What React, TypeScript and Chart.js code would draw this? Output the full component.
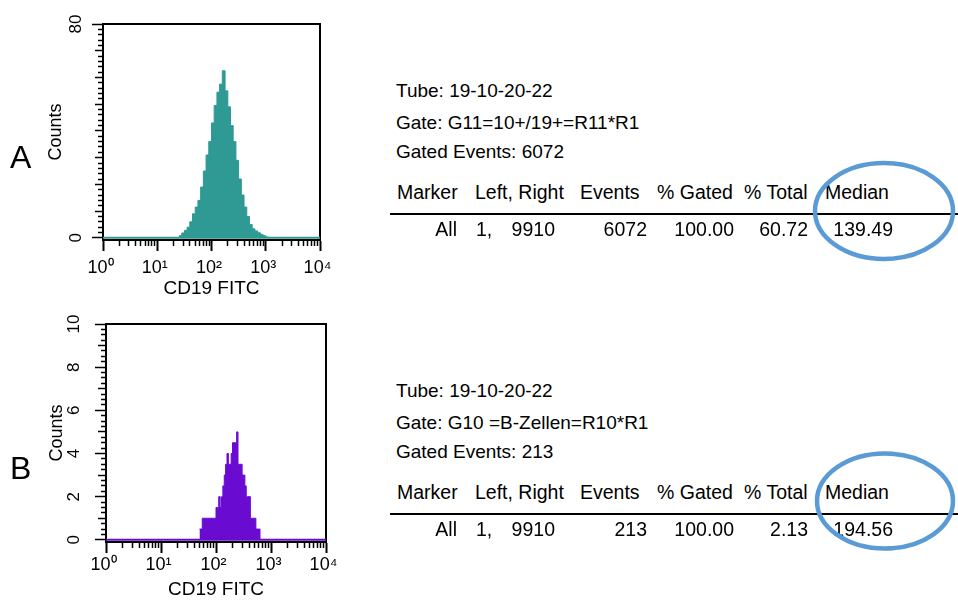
import React, { useEffect, useRef } from 'react';
import { Chart, registerables } from 'chart.js';

Chart.register(...registerables);

// ---------------- data ----------------
const X_DECADES = [1, 10, 100, 1000, 10000];
const X_DECADE_LABELS = ['10⁰', '10¹', '10²', '10³', '10⁴'];
const X_MINOR_MULTIPLIERS = [2, 3, 4, 5, 6, 7, 8, 9];

// Panel A histogram (bin left edges in channel units, last value = right edge of last bin)
const A_EDGES = [
  25.1, 28.2, 31.6, 35.5, 39.8, 44.7, 50.1, 56.2, 63.1, 70.8, 79.4, 89.1,
  100, 112, 126, 141, 158, 178, 200, 224, 251, 282, 316, 355, 398, 447,
  501, 562, 631, 708, 794, 891, 1000, 1122,
];
const A_COUNTS = [
  0.8, 1.8, 2.8, 4.0, 6.0, 9.0, 11.5, 14, 19, 25, 31, 36,
  43, 49.5, 54.5, 57.5, 62.5, 55, 49, 42, 36, 29, 22, 16, 11.5, 8,
  5, 3.4, 2.6, 1.9, 1.3, 0.8, 0.3,
];
const A_Y_LABELS = [0, 80];

// Panel B histogram
const B_EDGES = [
  50.1, 53.1, 56.2, 59.6, 63.1, 66.8, 70.8, 75.0, 79.4, 84.1, 89.1, 94.4,
  100, 105.9, 112.2, 118.9, 125.9, 133.4, 141.3, 149.6, 158.5, 167.9, 177.8,
  188.4, 199.5, 211.3, 223.9, 237.1, 251.2, 266.1, 281.8, 298.5, 316.2, 335.0,
  354.8, 375.8, 398.1, 421.7, 446.7, 473.2, 501.2, 530.9, 562.3, 595.7, 631.0,
];
const B_COUNTS = [
  0.5, 0.5, 1, 1, 1, 1, 1, 1, 1, 1, 1, 1,
  1.5, 1.5, 2, 1.5, 2, 2.5, 3, 3.5, 4, 3.5, 3.5,
  4, 4.5, 4.5, 4.5, 5, 3.5, 3.5, 3.5, 3, 3, 2.5,
  2, 2, 2, 1, 1, 1, 1, 0.5, 0.5, 0.5,
];
const B_Y_LABELS = [0, 2, 4, 6, 8, 10];

const X_TITLE = 'CD19 FITC';
const Y_TITLE = 'Counts';

const A_INFO = ['Tube: 19-10-20-22', 'Gate: G11=10+/19+=R11*R1', 'Gated Events: 6072'];
const B_INFO = ['Tube: 19-10-20-22', 'Gate: G10 =B-Zellen=R10*R1', 'Gated Events: 213'];
const TABLE_HEADERS = ['Marker', 'Left, Right', 'Events', '% Gated', '% Total', 'Median'];
const A_ROW = ['All', '1,', '9910', '6072', '100.00', '60.72', '139.49'];
const B_ROW = ['All', '1,', '9910', '213', '100.00', '2.13', '194.56'];

const TEAL = '#2e9a93';
const PURPLE = '#6a0bd2';
const FONT = "'Liberation Sans', Arial, Helvetica, sans-serif";

// ---------------- chart helpers ----------------
const X_TICK_VALUES: number[] = [];
X_DECADES.forEach((d, i) => {
  X_TICK_VALUES.push(d);
  if (i < X_DECADES.length - 1) X_MINOR_MULTIPLIERS.forEach((m) => X_TICK_VALUES.push(d * m));
});

type Panel = {
  edges: number[];
  counts: number[];
  color: string;
  yMin: number;
  yMax: number;
  yStep: number;
  yMedium: number;
  yLabels: number[];
  padLeft: number;
  padTop: number;
  padRight: number;
  yWidth: number;
  xHeight: number;
  yTitlePad: number;
  yLabelPad: number;
  xLabelPad: number;
};

const PANEL_A: Panel = {
  edges: A_EDGES, counts: A_COUNTS, color: TEAL,
  yMin: -0.8, yMax: 80, yStep: 2, yMedium: 10, yLabels: A_Y_LABELS,
  padLeft: 30, padTop: 24, padRight: 25, yWidth: 73, xHeight: 60,
  yTitlePad: 15, yLabelPad: 6, xLabelPad: 6,
};
const PANEL_B: Panel = {
  edges: B_EDGES, counts: B_COUNTS, color: PURPLE,
  yMin: -0.1, yMax: 10, yStep: 0.25, yMedium: 1, yLabels: B_Y_LABELS,
  padLeft: 30, padTop: 24, padRight: 19, yWidth: 76, xHeight: 59,
  yTitlePad: 16, yLabelPad: 11, xLabelPad: 1,
};

const TICK_LEN = 11;
const NONE = 'rgba(0,0,0,0)';
// left-axis ticks are stroked from the outer end towards the border: use a dash offset
// so only the part next to the border is visible
const leftDash = (s: number) => (s >= TICK_LEN ? [] : [s, 100]);
const leftDashOffset = (s: number) => (s >= TICK_LEN ? 0 : 100 + 2 * s - (TICK_LEN - 1));

function near(a: number, b: number) {
  return Math.abs(a - b) < 1e-6;
}

function makeConfig(p: Panel): any {
  const pts: { x: number; y: number }[] = [];
  for (let i = 0; i < p.counts.length; i++) pts.push({ x: p.edges[i], y: p.counts[i] });
  pts.push({ x: p.edges[p.edges.length - 1], y: 0 });
  const base = [
    { x: X_DECADES[0], y: 0 },
    { x: X_DECADES[X_DECADES.length - 1], y: 0 },
  ];

  const yTicks: number[] = [];
  const n = Math.round(p.yMax / p.yStep);
  for (let i = 0; i <= n; i++) yTicks.push(+(i * p.yStep).toFixed(4));

  const isLabel = (v: number) => p.yLabels.some((l) => near(l, v));
  const isMedium = (v: number) => near(v / p.yMedium, Math.round(v / p.yMedium));
  const ySeg = (v: number) => (isLabel(v) ? TICK_LEN : isMedium(v) ? 7 : 4);
  const isDecade = (v: number) => X_DECADES.some((d) => near(d, v));

  return {
    type: 'line',
    data: {
      datasets: [
        {
          data: pts,
          stepped: 'before',
          fill: 'origin',
          backgroundColor: p.color,
          borderColor: p.color,
          borderWidth: 1,
          pointRadius: 0,
          tension: 0,
        },
        {
          data: base,
          fill: false,
          borderColor: p.color,
          borderWidth: 2,
          pointRadius: 0,
        },
      ],
    },
    options: {
      responsive: false,
      animation: false,
      devicePixelRatio: 1,
      layout: { padding: { left: p.padLeft, top: p.padTop, right: p.padRight, bottom: 0 } },
      plugins: { legend: { display: false }, tooltip: { enabled: false } },
      events: [],
      scales: {
        x: {
          type: 'logarithmic',
          position: 'bottom',
          min: X_DECADES[0],
          max: X_DECADES[X_DECADES.length - 1],
          afterBuildTicks: (s: any) => {
            s.ticks = X_TICK_VALUES.map((v) => ({ value: v }));
          },
          afterFit: (s: any) => {
            s.height = p.xHeight;
          },
          ticks: {
            autoSkip: false,
            maxTicksLimit: 1000,
            minRotation: 0,
            maxRotation: 0,
            padding: p.xLabelPad,
            color: '#000',
            font: { family: FONT, size: 18 },
            callback: (v: number) => {
              const i = X_DECADES.findIndex((d) => near(d, v));
              return i >= 0 ? X_DECADE_LABELS[i] + ' ' : '';
            },
          },
          grid: {
            color: NONE,
            drawOnChartArea: false,
            drawTicks: true,
            tickLength: TICK_LEN,
            tickColor: '#000',
            tickWidth: (c: any) => (isDecade(c.tick.value) ? 2 : 1.5),
            tickBorderDash: (c: any) => (isDecade(c.tick.value) ? [] : [5, 100]),
            tickBorderDashOffset: 0,
          },
          border: { display: true, color: '#000', width: 2 },
          title: {
            display: true,
            text: X_TITLE,
            color: '#000',
            font: { family: FONT, size: 19 },
            padding: { top: 0, bottom: 0 },
          },
        },
        y: {
          type: 'linear',
          position: 'left',
          min: p.yMin,
          max: p.yMax,
          bounds: 'data',
          afterBuildTicks: (s: any) => {
            s.ticks = yTicks.map((v) => ({ value: v }));
          },
          afterFit: (s: any) => {
            s.width = p.yWidth;
          },
          ticks: {
            autoSkip: false,
            maxTicksLimit: 1000,
            minRotation: 90,
            maxRotation: 90,
            crossAlign: 'center',
            padding: p.yLabelPad,
            color: '#000',
            font: { family: FONT, size: 17 },
            callback: (v: number) => (isLabel(v) ? String(v) : ''),
          },
          grid: {
            color: NONE,
            drawOnChartArea: false,
            drawTicks: true,
            tickLength: TICK_LEN,
            tickColor: '#000',
            tickWidth: 1.5,
            tickBorderDash: (c: any) => leftDash(ySeg(c.tick.value)),
            tickBorderDashOffset: (c: any) => leftDashOffset(ySeg(c.tick.value)),
          },
          border: { display: true, color: '#000', width: 2 },
          title: {
            display: true,
            text: Y_TITLE,
            color: '#000',
            font: { family: FONT, size: 18 },
            padding: { top: p.yTitlePad, bottom: 0 },
          },
        },
        xTop: {
          type: 'linear',
          position: 'top',
          afterFit: (s: any) => {
            s.height = 0;
          },
          ticks: { display: false },
          grid: { color: NONE, drawOnChartArea: false, drawTicks: false },
          border: { display: true, color: '#000', width: 2 },
        },
        yRight: {
          type: 'linear',
          position: 'right',
          afterFit: (s: any) => {
            s.width = 0;
          },
          ticks: { display: false },
          grid: { color: NONE, drawOnChartArea: false, drawTicks: false },
          border: { display: true, color: '#000', width: 2 },
        },
      },
    },
  };
}

// ---------------- layout helpers ----------------
const TXT = '#000';

function Txt(props: { x: number; cy: number; size: number; text: string; align?: 'left' | 'right' }) {
  const { x, cy, size, text, align = 'left' } = props;
  const style: React.CSSProperties = {
    position: 'absolute',
    top: cy - size / 2,
    fontSize: size,
    lineHeight: `${size}px`,
    color: TXT,
    whiteSpace: 'pre',
    fontFamily: FONT,
  };
  if (align === 'left') style.left = x;
  else {
    style.left = x - 300;
    style.width = 300;
    style.textAlign = 'right';
  }
  return <div style={style}>{text}</div>;
}

const HEADER_LEFT = [397, 475, 580, 657, 744, 825];

function InfoBlock(props: { dy: number; info: string[]; row: string[] }) {
  const { dy, info, row } = props;
  const infoY = [90, 122, 151];
  return (
    <>
      {info.map((t, i) => (
        <Txt key={'i' + i} x={396} cy={infoY[i] + dy} size={19} text={t} />
      ))}
      {TABLE_HEADERS.map((h, i) => (
        <Txt key={'h' + i} x={HEADER_LEFT[i]} cy={193 + dy} size={19.5} text={h} />
      ))}
      <div
        style={{ position: 'absolute', left: 390, top: 213 + dy, width: 568, height: 2, background: TXT }}
      />
      <Txt x={457} cy={230 + dy} size={19.5} text={row[0]} align="right" />
      <Txt x={476} cy={230 + dy} size={19.5} text={row[1]} />
      <Txt x={555} cy={230 + dy} size={19.5} text={row[2]} align="right" />
      <Txt x={647} cy={230 + dy} size={19.5} text={row[3]} align="right" />
      <Txt x={734} cy={230 + dy} size={19.5} text={row[4]} align="right" />
      <Txt x={808} cy={230 + dy} size={19.5} text={row[5]} align="right" />
      <Txt x={893} cy={230 + dy} size={19.5} text={row[6]} align="right" />
    </>
  );
}

export default function App() {
  const refA = useRef<HTMLCanvasElement>(null);
  const refB = useRef<HTMLCanvasElement>(null);

  useEffect(() => {
    const a = new Chart(refA.current as HTMLCanvasElement, makeConfig(PANEL_A));
    const b = new Chart(refB.current as HTMLCanvasElement, makeConfig(PANEL_B));
    return () => {
      a.destroy();
      b.destroy();
    };
  }, []);

  return (
    <div
      style={{
        position: 'fixed',
        left: 0,
        top: 0,
        width: 958,
        height: 601,
        background: '#fff',
        overflow: 'hidden',
        fontFamily: FONT,
      }}
    >
      <canvas ref={refA} width={345} height={300} style={{ position: 'absolute', left: 0, top: 0 }} />
      <canvas ref={refB} width={345} height={301} style={{ position: 'absolute', left: 0, top: 300 }} />
      <div style={{ position: 'absolute', left: 10, top: 141, fontSize: 32, lineHeight: '32px', color: TXT }}>A</div>
      <div style={{ position: 'absolute', left: 10, top: 452, fontSize: 32, lineHeight: '32px', color: TXT }}>B</div>
      <InfoBlock dy={0} info={A_INFO} row={A_ROW} />
      <InfoBlock dy={300} info={B_INFO} row={B_ROW} />
      <svg
        width={958}
        height={601}
        style={{ position: 'absolute', left: 0, top: 0, pointerEvents: 'none' }}
      >
        <ellipse cx={884} cy={211} rx={69} ry={48} fill="none" stroke="#5b9bd5" strokeWidth={4.5} />
        <ellipse cx={885} cy={501} rx={68} ry={47.5} fill="none" stroke="#5b9bd5" strokeWidth={4.5} />
      </svg>
    </div>
  );
}
